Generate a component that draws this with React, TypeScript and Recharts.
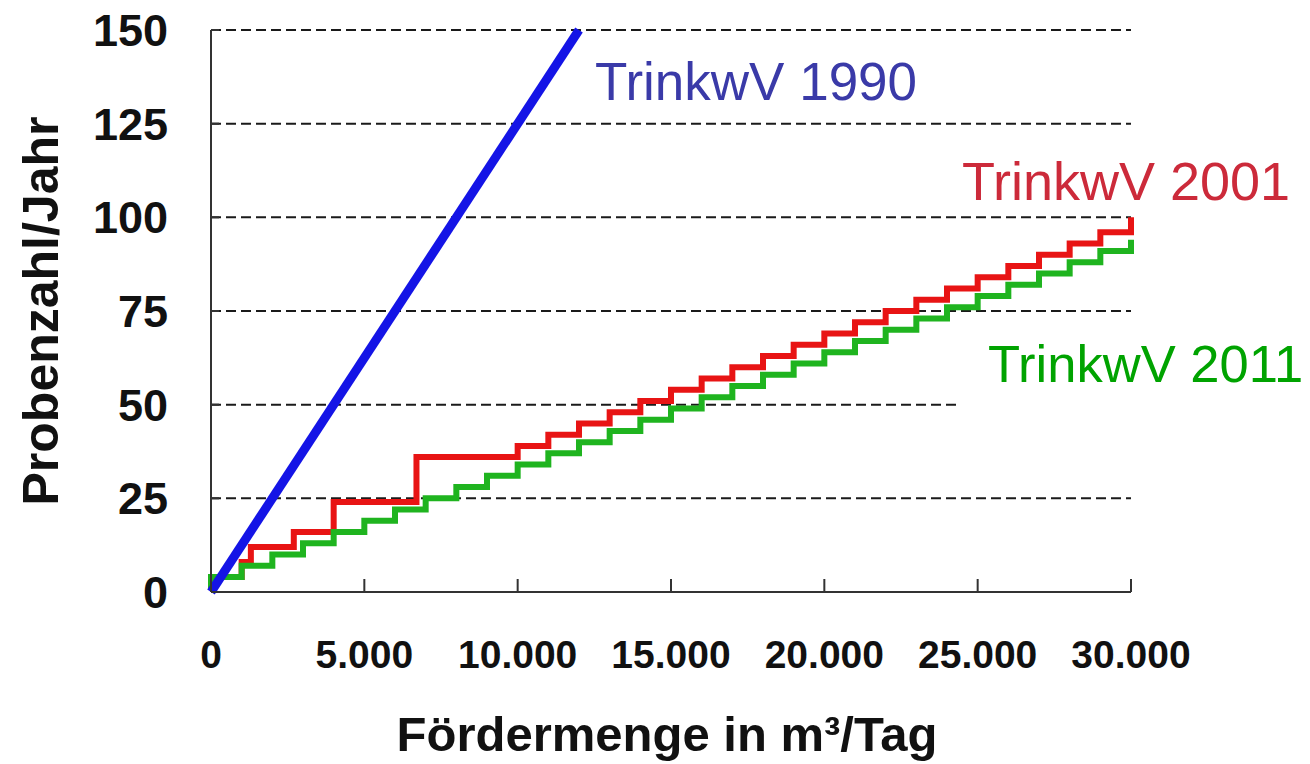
import React from 'react';
import { LineChart, Line, XAxis, YAxis, CartesianGrid } from 'recharts';

const xTicks = [0, 5000, 10000, 15000, 20000, 25000, 30000];
const xTickLabels = ['0', '5.000', '10.000', '15.000', '20.000', '25.000', '30.000'];
const yTicks = [0, 25, 50, 75, 100, 125, 150];

const seriesNames = ['TrinkwV 1990', 'TrinkwV 2001', 'TrinkwV 2011'];

const blue1990X = [0, 12000];
const blue1990Y = [0, 150];

const red2001X = [0, 1000, 1300, 2700, 4000, 6700, 10000, 11000, 12000, 13000, 14000, 15000, 16000, 17000, 18000, 19000, 20000, 21000, 22000, 23000, 24000, 25000, 26000, 27000, 28000, 29000, 30000];
const red2001Y = [4, 8, 12, 16, 24, 36, 39, 42, 45, 48, 51, 54, 57, 60, 63, 66, 69, 72, 75, 78, 81, 84, 87, 90, 93, 96, 100];

const green2011X = [0, 0, 1000, 2000, 3000, 4000, 5000, 6000, 7000, 8000, 9000, 10000, 11000, 12000, 13000, 14000, 15000, 16000, 17000, 18000, 19000, 20000, 21000, 22000, 23000, 24000, 25000, 26000, 27000, 28000, 29000, 30000];
const green2011Y = [1, 4, 7, 10, 13, 16, 19, 22, 25, 28, 31, 34, 37, 40, 43, 46, 49, 52, 55, 58, 61, 64, 67, 70, 73, 76, 79, 82, 85, 88, 91, 94];

const toRows = (xs: number[], ys: number[]) => xs.map((x, i) => ({ x, y: ys[i] }));
const blueData = toRows(blue1990X, blue1990Y);
const redData = toRows(red2001X, red2001Y);
const greenData = toRows(green2011X, green2011Y);

const FONT = '"Liberation Sans", Arial, Helvetica, sans-serif';
const Y_MARGIN = 43;
const X_MARGIN = 10;

const YTick = (props: any) => {
  const { x, y, payload } = props;
  const ax = x + Y_MARGIN;
  return (
    <g>
      <line x1={ax} x2={ax + 8} y1={y} y2={y} stroke="#333" strokeWidth={2} />
      <text x={x} y={y} dy="0.355em" textAnchor="end" fontFamily={FONT} fontWeight="bold" fontSize={45} fill="#111">
        {payload.value}
      </text>
    </g>
  );
};

const XTick = (props: any) => {
  const { x, y, payload } = props;
  const ay = y - X_MARGIN;
  const idx = xTicks.indexOf(payload.value);
  return (
    <g>
      <line x1={x} x2={x} y1={ay} y2={ay - 13} stroke="#333" strokeWidth={2} />
      <text x={x} y={ay + 76} textAnchor="middle" fontFamily={FONT} fontWeight="bold" fontSize={39} fill="#111">
        {idx >= 0 ? xTickLabels[idx] : String(payload.value)}
      </text>
    </g>
  );
};

export default function App() {
  return (
    <div style={{ position: 'absolute', left: 0, top: 0, width: 1310, height: 764, background: '#fff' }}>
      <LineChart width={1310} height={764} margin={{ top: 30, right: 179, bottom: 0, left: 0 }}>
        <CartesianGrid
          vertical={false}
          stroke="#1a1a1a"
          strokeWidth={2}
          strokeDasharray="10 5"
          horizontal={{ stroke: '#1a1a1a', strokeWidth: 2, strokeDasharray: '10 5' }}
        />
        <XAxis
          dataKey="x"
          type="number"
          domain={[0, 30000]}
          ticks={xTicks}
          interval={0}
          height={172}
          tickSize={0}
          tickMargin={X_MARGIN}
          tick={<XTick />}
          axisLine={{ stroke: '#333', strokeWidth: 2 }}
          label={{
            value: 'Fördermenge in m³/Tag',
            position: 'insideBottom',
            offset: 13,
            dx: -4,
            style: { fontFamily: FONT, fontWeight: 'bold', fontSize: 49, fill: '#111' },
          }}
        />
        <YAxis
          type="number"
          domain={[0, 150]}
          ticks={yTicks}
          interval={0}
          width={211}
          tickSize={0}
          tickMargin={Y_MARGIN}
          tick={<YTick />}
          axisLine={{ stroke: '#333', strokeWidth: 2 }}
          label={{
            value: 'Probenzahl/Jahr',
            position: 'insideLeft',
            angle: -90,
            offset: 40,
            style: { fontFamily: FONT, fontWeight: 'bold', fontSize: 50, fill: '#111', textAnchor: 'middle' },
          }}
        />
        <Line data={redData} dataKey="y" name={seriesNames[1]} type="stepAfter" stroke="#e81414" strokeWidth={6} dot={false} isAnimationActive={false} />
        <Line data={greenData} dataKey="y" name={seriesNames[2]} type="stepAfter" stroke="#1fb41f" strokeWidth={6} dot={false} isAnimationActive={false} />
        <Line data={blueData} dataKey="y" name={seriesNames[0]} type="linear" stroke="#1414e6" strokeWidth={9} dot={false} isAnimationActive={false} />
      </LineChart>
      <svg width={1310} height={764} style={{ position: 'absolute', left: 0, top: 0, pointerEvents: 'none' }}>
        <rect x={958} y={330} width={352} height={82} fill="#fff" />
        <text x={595} y={100} fontFamily={FONT} fontSize={53} fill="#3a3aa8">{seriesNames[0]}</text>
        <text x={962} y={200} fontFamily={FONT} fontSize={54} fill="#cc2a3a">{seriesNames[1]}</text>
        <text x={988} y={382} fontFamily={FONT} fontSize={52.5} fill="#00a300">{seriesNames[2]}</text>
      </svg>
    </div>
  );
}
